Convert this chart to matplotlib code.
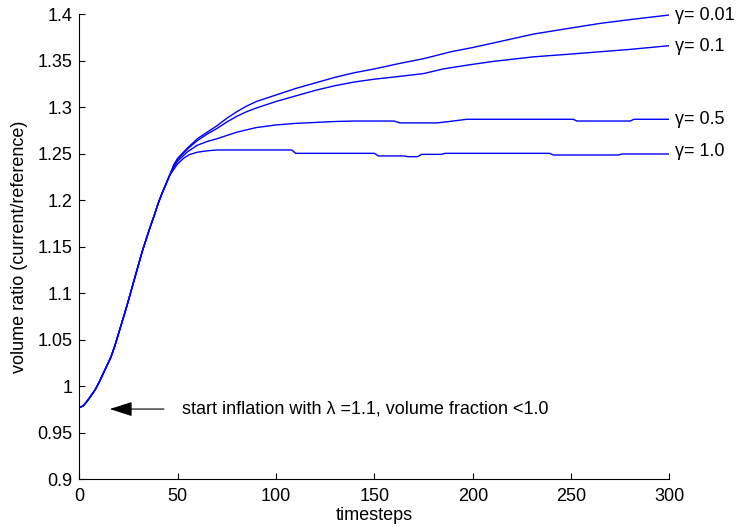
import matplotlib
matplotlib.use("Agg")
import matplotlib.pyplot as plt
import numpy as np

# common inflation phase (all gamma values coincide here)
t_rise = [0, 2, 4, 6, 8, 10, 12, 14, 16, 18, 20, 22, 24, 26, 28, 30, 32, 34,
          36, 38, 40, 42, 44, 46]
v_rise = [0.977, 0.979, 0.984, 0.990, 0.996, 1.004, 1.013, 1.022, 1.031, 1.043,
          1.057, 1.071, 1.085, 1.100, 1.115, 1.130, 1.145, 1.158, 1.171, 1.183,
          1.196, 1.207, 1.217, 1.227]

# gamma = 0.01
t_g001 = [48, 50, 55, 60, 65, 70, 75, 80, 85, 90, 100, 110, 120, 130, 140, 150,
          163, 175, 189, 200, 215, 231, 250, 265, 280, 300]
v_g001 = [1.238, 1.245, 1.256, 1.266, 1.273, 1.280, 1.288, 1.295, 1.301, 1.306,
          1.313, 1.320, 1.326, 1.332, 1.337, 1.341, 1.347, 1.352, 1.3595, 1.364,
          1.371, 1.3785, 1.385, 1.390, 1.394, 1.399]

# gamma = 0.1
t_g01 = [48, 50, 55, 60, 65, 70, 75, 80, 85, 90, 100, 110, 120, 130, 140, 150,
         163, 175, 185, 197, 210, 231, 250, 265, 280, 300]
v_g01 = [1.237, 1.244, 1.255, 1.264, 1.271, 1.277, 1.284, 1.290, 1.295, 1.299,
         1.306, 1.312, 1.318, 1.323, 1.327, 1.330, 1.333, 1.336, 1.341, 1.345,
         1.349, 1.354, 1.357, 1.3595, 1.362, 1.366]

# gamma = 0.5
t_g05 = [48, 50, 55, 60, 65, 70, 80, 90, 100, 110, 120, 130, 140, 160, 163,
         182, 190, 197, 251, 253, 280, 282, 300]
v_g05 = [1.235, 1.242, 1.252, 1.259, 1.263, 1.266, 1.273, 1.278, 1.2808, 1.2825,
         1.2835, 1.2845, 1.285, 1.285, 1.283, 1.283, 1.285, 1.2869, 1.2869,
         1.285, 1.285, 1.2869, 1.2869]

# gamma = 1.0
t_g10 = [48, 50, 53, 56, 60, 65, 70, 108, 110, 150, 152, 165, 167, 172, 174,
         184, 186, 239, 241, 274, 276, 300]
v_g10 = [1.233, 1.239, 1.245, 1.249, 1.2515, 1.253, 1.2539, 1.2539, 1.2503,
         1.2503, 1.2475, 1.2475, 1.2467, 1.2467, 1.2492, 1.2492, 1.2503, 1.2503,
         1.2485, 1.2485, 1.2496, 1.2496]

labels = ["\u03b3= 0.01", "\u03b3= 0.1", "\u03b3= 0.5", "\u03b3= 1.0"]
label_y = [1.3985, 1.3655, 1.2865, 1.2525]

x_ticks = [0, 50, 100, 150, 200, 250, 300]
y_ticks = [0.9, 0.95, 1.0, 1.05, 1.1, 1.15, 1.2, 1.25, 1.3, 1.35, 1.4]

plt.rcParams["font.family"] = ["Liberation Sans", "DejaVu Sans"]
plt.rcParams["font.size"] = 13

fig = plt.figure(figsize=(7.37, 5.27), dpi=100)
ax = fig.add_axes([0.1076, 0.0905, 0.8008, 0.8829])

series = [(t_g001, v_g001), (t_g01, v_g01), (t_g05, v_g05), (t_g10, v_g10)]
for (t, v), lab, ly in zip(series, labels, label_y):
    tt = np.concatenate([t_rise, t])
    vv = np.concatenate([v_rise, v])
    ax.plot(tt, vv, color="#0000ff", linewidth=1.0)
    ax.text(303, ly, lab, ha="left", va="center", fontsize=13, clip_on=False)

ax.annotate("", xy=(15.5, 0.9755), xytext=(43, 0.9755),
            arrowprops=dict(arrowstyle="-|>,head_length=1.4,head_width=0.45",
                            mutation_scale=10, lw=0.8, color="k",
                            shrinkA=0, shrinkB=0))
ax.text(52, 0.9755, "start inflation with \u03bb =1.1, volume fraction <1.0",
        ha="left", va="center", fontsize=13)

ax.set_xlim(0, 300)
ax.set_ylim(0.9, 1.4)
ax.set_xticks(x_ticks)
ax.set_yticks(y_ticks)
ax.set_yticklabels([f"{y:g}" for y in y_ticks])
ax.tick_params(direction="in", length=4, width=0.8, labelsize=13)
ax.tick_params(axis="x", pad=6)
ax.tick_params(axis="y", pad=5)

for side in ["top", "right"]:
    ax.spines[side].set_visible(False)
for side in ["left", "bottom"]:
    ax.spines[side].set_linewidth(0.8)

ax.set_xlabel("timesteps", fontsize=13, labelpad=2)
ax.set_ylabel("volume ratio (current/reference)", fontsize=13, labelpad=7)

fig.savefig("out.png", dpi=100)
